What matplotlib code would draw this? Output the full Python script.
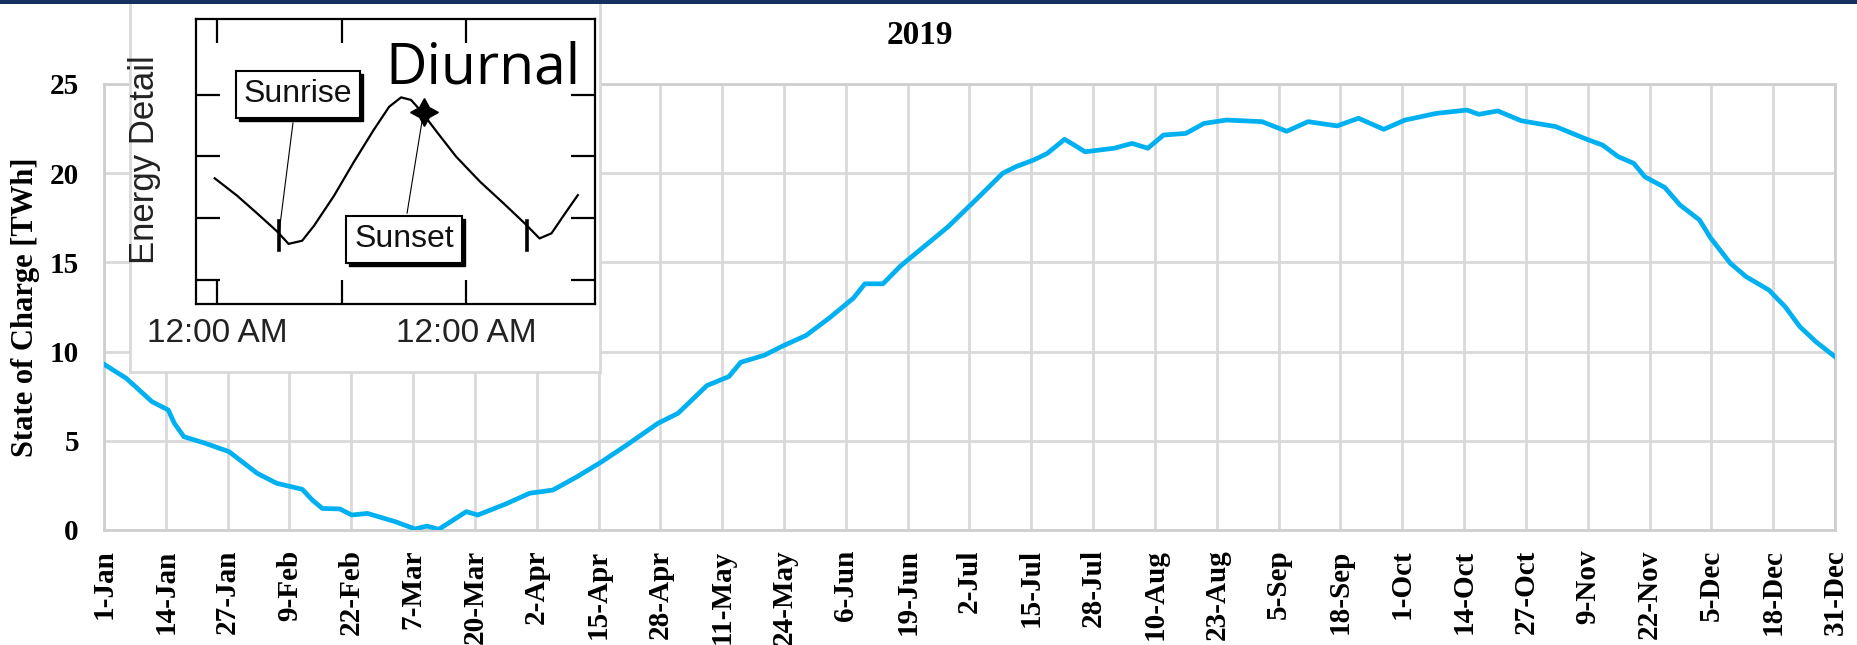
import matplotlib.pyplot as plt
from matplotlib.patches import Rectangle

# State of charge over 2019 (day of year, TWh)
days = [0, 4.7, 10.1, 13.5, 14.8, 16.8, 21.3, 26.3, 32.2, 36.3, 41.7, 43.8, 45.9,
        49.6, 52.1, 55.4, 61.2, 65.4, 67.9, 70.4, 76.2, 78.6, 84.5, 89.5, 94.4,
        99.5, 104.5, 109.9, 116.5, 120.7, 126.8, 131.4, 133.9, 138.9, 142.6, 147.6,
        152.6, 157.6, 160, 163.8, 167.5, 172.5, 177.5, 183.3, 189, 191.8, 195.5,
        198.3, 202, 204, 206.3, 212.4, 216.2, 219.5, 222.8, 227.5, 231.3, 236,
        243.5, 248.7, 253.2, 259.3, 263.8, 269.1, 273.6, 280.1, 286.6, 289.1,
        293.1, 298, 305.3, 311.8, 315.1, 318.4, 321.7, 324, 328.2, 331.4, 335.5,
        337.9, 342, 345.3, 350.1, 353.5, 356.6, 360, 364]
soc = [9.29, 8.50, 7.19, 6.73, 5.98, 5.23, 4.86, 4.39, 3.18, 2.62, 2.28, 1.68, 1.21,
       1.18, 0.84, 0.93, 0.47, 0.06, 0.22, 0.04, 1.03, 0.84, 1.46, 2.06, 2.24,
       2.99, 3.80, 4.76, 5.98, 6.54, 8.10, 8.6, 9.4, 9.8, 10.3, 10.9,
       11.9, 13.0, 13.8, 13.8, 14.8, 15.9, 17.0, 18.5, 20.0, 20.37, 20.74,
       21.1, 21.9, 21.58, 21.2, 21.4, 21.67, 21.4, 22.14, 22.23, 22.79, 22.98,
       22.89, 22.35, 22.89, 22.65, 23.08, 22.46, 22.98, 23.35, 23.54, 23.3,
       23.49, 22.94, 22.61, 21.9, 21.58, 20.93, 20.55, 19.8, 19.2, 18.22, 17.38,
       16.35, 14.95, 14.2, 13.45, 12.52, 11.4, 10.55, 9.71]

tick_days = list(range(0, 365, 13))
tick_labels = ["1-Jan", "14-Jan", "27-Jan", "9-Feb", "22-Feb", "7-Mar", "20-Mar",
               "2-Apr", "15-Apr", "28-Apr", "11-May", "24-May", "6-Jun", "19-Jun",
               "2-Jul", "15-Jul", "28-Jul", "10-Aug", "23-Aug", "5-Sep", "18-Sep",
               "1-Oct", "14-Oct", "27-Oct", "9-Nov", "22-Nov", "5-Dec", "18-Dec",
               "31-Dec"]

# diurnal detail curve (inset, fractions of the box)
diurnal_x = [0.047, 0.103, 0.150, 0.203, 0.232, 0.266, 0.296, 0.346, 0.395, 0.445,
             0.484, 0.514, 0.539, 0.565, 0.603, 0.652, 0.712, 0.771, 0.826, 0.861,
             0.891, 0.925, 0.957]
diurnal_y = [0.441, 0.380, 0.322, 0.255, 0.211, 0.222, 0.275, 0.380, 0.497, 0.610,
             0.692, 0.725, 0.716, 0.675, 0.605, 0.517, 0.429, 0.353, 0.280, 0.230,
             0.248, 0.318, 0.382]
sunrise_x = [0.208, 0.830]
sunset_point = (0.571, 0.674)

serif = "Liberation Serif"
sans = "Liberation Sans"
grid_col = "#d9d9d9"

fig = plt.figure(figsize=(18.58, 6.45), dpi=100)

# main chart
ax = fig.add_axes([104 / 1858, 1 - 530 / 645, 1731 / 1858, 446 / 645])
ax.plot(days, soc, color="#00b0f0", lw=3.4, zorder=3)
ax.set_xlim(0, 364)
ax.set_ylim(0, 25)
ax.set_xticks(tick_days)
ax.set_xticklabels(tick_labels, rotation=90, fontfamily=serif, fontweight="bold", fontsize=21)
ax.set_yticks([0, 5, 10, 15, 20, 25])
ax.set_yticklabels(["0", "5", "10", "15", "20", "25"], fontfamily=serif, fontweight="bold", fontsize=21)
ax.tick_params(axis="x", length=0, pad=14)
ax.tick_params(axis="y", length=0, pad=18)
ax.grid(True, color=grid_col, lw=2)
ax.set_axisbelow(True)
for s in ax.spines.values():
    s.set_color("#cfcfcf")
    s.set_linewidth(2)
ax.set_ylabel("State of Charge [TWh]", fontfamily=serif, fontweight="bold", fontsize=22, labelpad=7)
fig.text(920 / 1858, 1 - 35 / 645, "2019", ha="center", va="center",
         fontfamily=serif, fontweight="bold", fontsize=24)

# white panel behind the inset
bg = fig.add_axes([130 / 1858, 1 - 372 / 645, 470 / 1858, 369 / 645])
bg.set_xticks([])
bg.set_yticks([])
bg.set_facecolor("white")
for name, s in bg.spines.items():
    s.set_color(grid_col)
    s.set_linewidth(2)
bg.spines["top"].set_visible(False)

# inset: diurnal energy detail
ins = fig.add_axes([196 / 1858, 1 - 304 / 645, 399 / 1858, 285 / 645])
ins.plot(diurnal_x, diurnal_y, color="black", lw=1.6)
ins.set_xlim(0, 1)
ins.set_ylim(0, 1)
ins.set_xticks([0.053, 0.365, 0.677])
ins.set_xticklabels(["12:00 AM", "", "12:00 AM"], fontfamily=sans, fontsize=24, color="#222222")
ins.set_yticks([0.084, 0.301, 0.518, 0.735])
ins.set_yticklabels([])
ins.tick_params(direction="in", length=17, width=1.6, top=True, right=True, pad=10)
for s in ins.spines.values():
    s.set_linewidth(1.6)
ins.text(-0.13, 0.505, "Energy Detail", transform=ins.transAxes, rotation=90,
         ha="center", va="center", fontfamily=sans, fontsize=25, color="#222222")

for x in sunrise_x:
    ins.plot([x, x], [0.19, 0.29], color="black", lw=2.6)
ins.plot([0.243, 0.208], [0.635, 0.249], color="black", lw=0.8)
ins.plot([0.529, 0.569], [0.319, 0.663], color="black", lw=0.8)
ins.plot(*sunset_point, marker=(4, 1, 0), color="black", ms=20)

for (x0, y0, w, h, label) in [(0.100, 0.653, 0.311, 0.165, "Sunrise"),
                              (0.376, 0.144, 0.291, 0.165, "Sunset")]:
    ins.add_patch(Rectangle((x0 + 0.008, y0 - 0.012), w, h, facecolor="black", edgecolor="black", zorder=4))
    ins.add_patch(Rectangle((x0, y0), w, h, facecolor="white", edgecolor="black", lw=1.5, zorder=5))
    ins.text(x0 + w / 2, y0 + h / 2, label, ha="center", va="center",
             fontfamily=sans, fontsize=23, color="#111111", zorder=6)

ins.text(0.719, 0.775, "Diurnal", ha="center", va="baseline", fontfamily="Open Sans",
         fontsize=41, color="black")

# dark band along the top edge
fig.patches.append(Rectangle((0, 1 - 4 / 645), 1, 4 / 645, transform=fig.transFigure,
                             facecolor="#14305e", edgecolor="none", zorder=10))

fig.savefig("out.png", dpi=100)
